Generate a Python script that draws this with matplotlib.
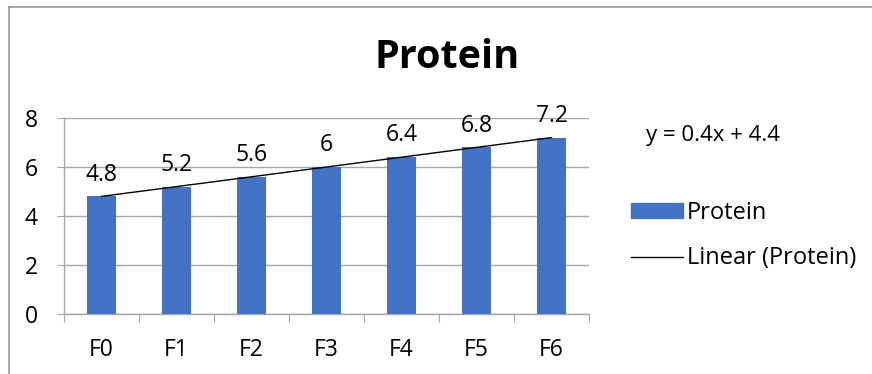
import matplotlib
matplotlib.use("Agg")
import matplotlib.pyplot as plt
from matplotlib.patches import Rectangle
from matplotlib.lines import Line2D
import numpy as np

categories = ["F0", "F1", "F2", "F3", "F4", "F5", "F6"]
protein = [4.8, 5.2, 5.6, 6.0, 6.4, 6.8, 7.2]
value_labels = ["4.8", "5.2", "5.6", "6", "6.4", "6.8", "7.2"]
trend_slope = 0.4
trend_intercept = 4.4
yticks = [0, 2, 4, 6, 8]

plt.rcParams['font.family'] = ['Open Sans', 'DejaVu Sans']

W, H = 872, 374
fig = plt.figure(figsize=(W / 100, H / 100), dpi=100)

# outer chart border (left and top edges visible)
fig.add_artist(Line2D([9 / W, 9 / W], [0, 1 - 7 / H], transform=fig.transFigure,
                      color="#9a9a9a", linewidth=1.2))
fig.add_artist(Line2D([9 / W, 1], [1 - 7 / H, 1 - 7 / H], transform=fig.transFigure,
                      color="#9a9a9a", linewidth=1.2))

ax = fig.add_axes([64 / W, (H - 314) / H, 525 / W, 196 / H])
x = np.arange(len(categories))
ax.bar(x, protein, width=0.39, color="#4472C4", zorder=3)

# trendline
xt = np.array([x[0], x[-1]])
yt = trend_slope * (xt + 1) + trend_intercept
ax.plot(xt, yt, color="black", linewidth=1.0, zorder=4)

for xi, v, lab in zip(x, protein, value_labels):
    ax.annotate(lab, (xi, v), xytext=(0, 7), textcoords="offset points",
                ha="center", va="bottom", fontsize=16.5)

ax.set_xlim(-0.5, len(categories) - 0.5)
ax.set_ylim(0, 8)
ax.set_yticks(yticks)
ax.set_yticklabels([str(t) for t in yticks], fontsize=16.5)
ax.yaxis.grid(True, color="#a6a6a6", linewidth=1.0, zorder=0)
ax.tick_params(axis="y", length=5, color="#a6a6a6", pad=14)

ax.set_xticks(np.arange(-0.5, len(categories) + 0.5, 1), minor=False)
ax.set_xticklabels([])
ax.set_xticks(x, minor=True)
ax.set_xticklabels(categories, minor=True, fontsize=16.5)
ax.tick_params(axis="x", which="major", length=6, color="#a6a6a6")
ax.tick_params(axis="x", which="minor", length=0, pad=17)

for s in ["top", "right"]:
    ax.spines[s].set_visible(False)
for s in ["left", "bottom"]:
    ax.spines[s].set_color("#a6a6a6")
    ax.spines[s].set_linewidth(1.0)

fig.text(447 / W, 1 - 57 / H, "Protein", ha="center", va="center", fontsize=28.5, fontweight="bold")
fig.text(646 / W, 1 - 135 / H, "y = 0.4x + 4.4", ha="left", va="center", fontsize=16)

handles = [Rectangle((0, 0), 1, 1, color="#4472C4"), Line2D([0], [0], color="black", linewidth=1.0)]
fig.legend(handles, ["Protein", "Linear (Protein)"], loc="upper left",
           bbox_to_anchor=(610 / W, 1 - 180 / H), frameon=False, fontsize=17,
           handlelength=2.2, handleheight=0.6, handletextpad=0.15, labelspacing=0.9)

fig.savefig("out.png", dpi=100)
